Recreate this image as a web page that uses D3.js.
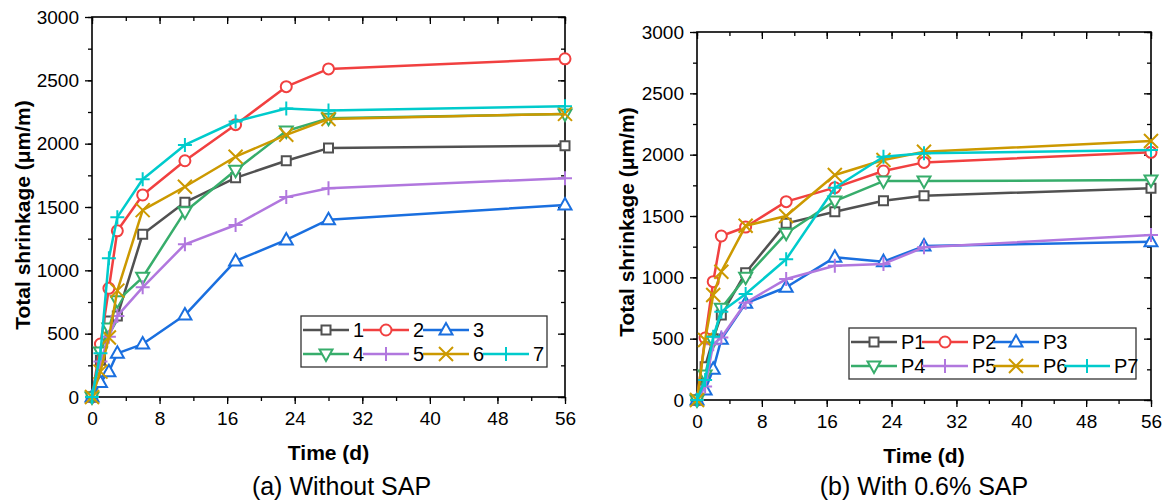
<!DOCTYPE html>
<html>
<head>
<meta charset="utf-8">
<script src="https://cdn.jsdelivr.net/npm/d3@7"></script>
<style>
  body { margin: 0; background: #fff; }
  text { font-family: "Liberation Sans", Arial, sans-serif; fill: #000; }
</style>
</head>
<body>
<svg id="chart" width="1166" height="500"></svg>
<script>

// curing age (days)
var days = [0, 1, 2, 3, 6, 11, 17, 23, 28, 56]

// (a) without SAP
var namesA = ["1", "2", "3", "4", "5", "6", "7"]
var a1 = [0, 290, 600, 640, 1285, 1537, 1730, 1865, 1965, 1983]
var a2 = [0, 418, 858, 1312, 1595, 1865, 2150, 2450, 2590, 2670]
var a3 = [0, 115, 200, 345, 418, 647, 1074, 1240, 1400, 1515]
var a4 = [0, 355, 545, 760, 945, 1463, 1790, 2100, 2200, 2235]
var a5 = [0, 280, 476, 640, 866, 1205, 1358, 1578, 1648, 1727]
var a6 = [0, 200, 470, 840, 1475, 1660, 1897, 2070, 2195, 2235]
var a7 = [0, 345, 1095, 1420, 1719, 1990, 2175, 2278, 2262, 2295]

// (b) with 0.6% SAP
var namesB = ["P1", "P2", "P3", "P4", "P5", "P6", "P7"]
var b1 = [0, 272, 500, 693, 1038, 1440, 1535, 1625, 1666, 1726]
var b2 = [0, 505, 965, 1337, 1410, 1617, 1731, 1867, 1937, 2019]
var b3 = [0, 82, 250, 495, 788, 919, 1163, 1128, 1255, 1291]
var b4 = [0, 204, 480, 747, 1000, 1359, 1622, 1785, 1785, 1793]
var b5 = [0, 110, 455, 510, 793, 986, 1095, 1109, 1245, 1345]
var b6 = [0, 489, 856, 1046, 1420, 1500, 1834, 1956, 2024, 2111]
var b7 = [0, 163, 516, 720, 864, 1147, 1730, 1983, 2011, 2038]

var xTicks = [0, 8, 16, 24, 32, 40, 48, 56]
var yTicks = [0, 500, 1000, 1500, 2000, 2500, 3000]

var colors = ["#515151", "#F14040", "#1A6FDF", "#37AD6B", "#B177DE", "#CC9900", "#00CBCC"]
var shapes = ["square", "circle", "up", "down", "plus", "cross", "plus"]

var svg = d3.select("#chart")

function markerPath(s) {
    if (s == "square") return "M-4.5,-4.5h9v9h-9z"
    if (s == "circle") return "M5.5,0A5.5,5.5 0 1,1 -5.5,0A5.5,5.5 0 1,1 5.5,0Z"
    if (s == "up") return "M0,-7L6.5,4.5L-6.5,4.5Z"
    if (s == "down") return "M0,7L6.5,-4.5L-6.5,-4.5Z"
    if (s == "plus") return "M-7,0H7M0,-7V7"
    return "M-7,-7L7,7M-7,7L7,-7"
}

function drawPanel(p) {
    var x = d3.scaleLinear().domain([0, 56]).range([p.left, p.right])
    var y = d3.scaleLinear().domain([0, 3000]).range([p.bottom, p.top])
    var g = svg.append("g")

    // minor + major ticks, bottom (out) and top (in)
    var xMinor = d3.range(0, 57, 4)
    var yMinor = d3.range(0, 3001, 250)

    g.append("g")
        .attr("transform", "translate(0," + p.bottom + ")")
        .call(d3.axisBottom(x).tickValues(xMinor).tickSize(4).tickFormat(""))
    g.append("g")
        .attr("class", "xb")
        .attr("transform", "translate(0," + p.bottom + ")")
        .call(d3.axisBottom(x).tickValues(xTicks).tickSize(7).tickPadding(8).tickFormat(d3.format("d")))
    g.append("g")
        .attr("transform", "translate(0," + p.top + ")")
        .call(d3.axisBottom(x).tickValues(xMinor).tickSize(4).tickFormat(""))
    g.append("g")
        .attr("transform", "translate(0," + p.top + ")")
        .call(d3.axisBottom(x).tickValues(xTicks).tickSize(7).tickFormat(""))

    g.append("g")
        .attr("transform", "translate(" + p.left + ",0)")
        .call(d3.axisLeft(y).tickValues(yMinor).tickSize(4).tickFormat(""))
    g.append("g")
        .attr("class", "yl")
        .attr("transform", "translate(" + p.left + ",0)")
        .call(d3.axisLeft(y).tickValues(yTicks).tickSize(7).tickPadding(6).tickFormat(d3.format("d")))
    g.append("g")
        .attr("transform", "translate(" + p.right + ",0)")
        .call(d3.axisLeft(y).tickValues(yMinor).tickSize(4).tickFormat(""))
    g.append("g")
        .attr("transform", "translate(" + p.right + ",0)")
        .call(d3.axisLeft(y).tickValues(yTicks).tickSize(7).tickFormat(""))

    g.selectAll(".domain").remove()
    g.selectAll(".tick line").attr("stroke", "#000").attr("stroke-width", 1.3)
    g.selectAll(".xb text, .yl text")
        .style("font-family", "'Liberation Sans', Arial, sans-serif")
        .style("font-size", "19px").attr("fill", "#000")

    g.append("rect")
        .attr("x", p.left).attr("y", p.top)
        .attr("width", p.right - p.left).attr("height", p.bottom - p.top)
        .attr("fill", "none").attr("stroke", "#000").attr("stroke-width", 1.6)

    var line = d3.line().x((d, i) => x(days[i])).y(d => y(d))

    p.series.forEach(function (s, k) {
        var sg = g.append("g")
        sg.append("path")
            .datum(s)
            .attr("d", line)
            .attr("fill", "none")
            .attr("stroke", colors[k])
            .attr("stroke-width", 2.5)
            .attr("stroke-linejoin", "round")
        sg.selectAll(".m")
            .data(s)
            .enter()
            .append("path")
            .attr("transform", (d, i) => "translate(" + x(days[i]) + "," + y(d) + ")")
            .attr("d", markerPath(shapes[k]))
            .attr("fill", shapes[k] == "plus" || shapes[k] == "cross" ? "none" : "#fff")
            .attr("stroke", colors[k])
            .attr("stroke-width", 2)
    })

    // legend
    var lg = svg.append("g")
    lg.append("rect")
        .attr("x", p.leg.x).attr("y", p.leg.y)
        .attr("width", p.leg.w).attr("height", p.leg.h)
        .attr("fill", "#fff").attr("stroke", "#333").attr("stroke-width", 1.3)
    p.names.forEach(function (n, k) {
        var row = k < 3 ? 0 : 1
        var col = k < 3 ? k : k - 3
        var lx = p.leg.x + 2 + col * p.leg.step
        var ly = p.leg.y + 14 + row * 24
        lg.append("line")
            .attr("x1", lx).attr("x2", lx + 46)
            .attr("y1", ly).attr("y2", ly)
            .attr("stroke", colors[k]).attr("stroke-width", 2.5)
        lg.append("path")
            .attr("transform", "translate(" + (lx + 23) + "," + ly + ")")
            .attr("d", markerPath(shapes[k]))
            .attr("fill", shapes[k] == "plus" || shapes[k] == "cross" ? "none" : "#fff")
            .attr("stroke", colors[k]).attr("stroke-width", 2)
        lg.append("text")
            .attr("x", lx + 50).attr("y", ly + 7)
            .style("font-size", "20px")
            .text(n)
    })

    var cx = (p.left + p.right) / 2
    svg.append("text")
        .attr("x", cx).attr("y", p.bottom + 63)
        .attr("text-anchor", "middle")
        .style("font-size", "21px").style("font-weight", "bold")
        .text("Time (d)")
    svg.append("text")
        .attr("x", cx + p.capShift).attr("y", 495)
        .attr("text-anchor", "middle")
        .style("font-size", "25px")
        .text(p.caption)
    svg.append("text")
        .attr("transform", "translate(" + p.titleX + "," + p.titleY + ") rotate(-90)")
        .attr("text-anchor", "middle")
        .style("font-size", "21px").style("font-weight", "bold")
        .text("Total shrinkage (\u03bcm/m)")
}

drawPanel({
    left: 92, right: 565, top: 17, bottom: 397,
    series: [a1, a2, a3, a4, a5, a6, a7],
    names: namesA,
    leg: { x: 301, y: 316, w: 246, h: 51, step: 60 },
    caption: "(a) Without SAP", capShift: 13, titleX: 30, titleY: 215
})

drawPanel({
    left: 697, right: 1151, top: 32, bottom: 400,
    series: [b1, b2, b3, b4, b5, b6, b7],
    names: namesB,
    leg: { x: 849, y: 328, w: 287, h: 51, step: 71 },
    caption: "(b) With 0.6% SAP", capShift: 0, titleX: 634, titleY: 222
})

</script>
</body>
</html>
